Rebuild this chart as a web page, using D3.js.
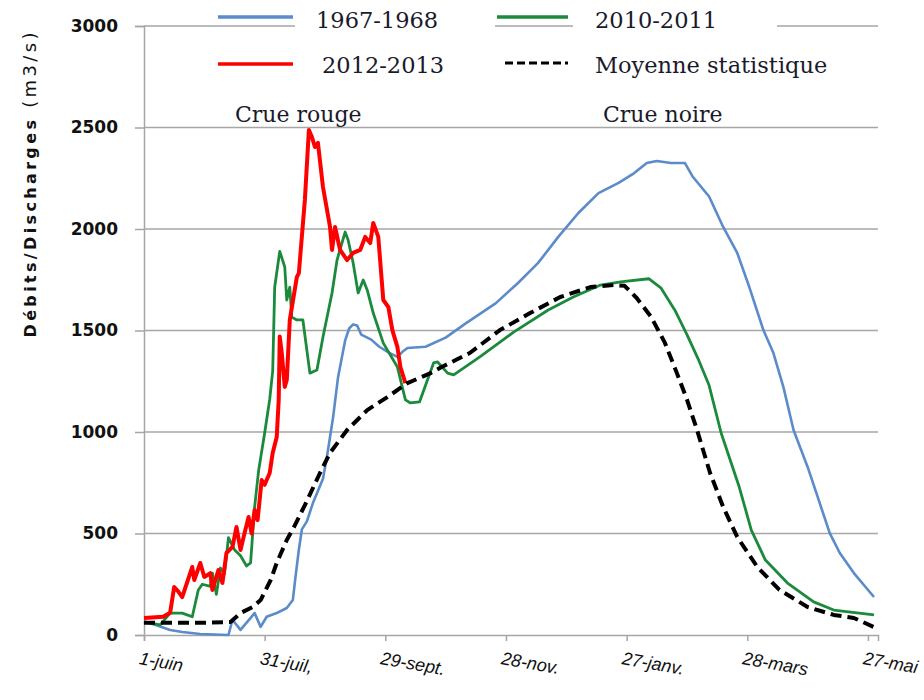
<!DOCTYPE html>
<html>
<head>
<meta charset="utf-8">
<script src="https://cdn.jsdelivr.net/npm/d3@7"></script>
<style>
  body { margin: 0; background: #fff; }
  svg { display: block; }
</style>
</head>
<body>
<svg id="chart" width="924" height="700"></svg>
<script>
// days counted from 1 June
let xTickDays = [0, 60, 120, 180, 240, 300, 360];
let xTickLabels = ["1-juin", "31-juil,", "29-sept.", "28-nov.", "27-janv.", "28-mars", "27-mai"];
let yTicks = [0, 500, 1000, 1500, 2000, 2500, 3000];

let days6768 = [0, 5.5, 13, 19, 28, 42, 44, 48, 55, 58, 61, 66, 71, 74, 75.5, 77, 78.5, 81, 84, 89, 91, 94, 96.5, 100, 102, 104, 106, 108, 113, 117, 122, 126, 128.5, 131, 140, 150, 160, 175, 186, 196, 206, 216, 226, 236, 243, 250, 255, 262, 269, 273, 281, 288, 295, 301, 308, 313, 318, 323, 330, 335, 341, 346, 353, 363];
let q6768 = [65, 50, 25, 15, 5, 0, 75, 25, 108, 40, 90, 108, 133, 172, 300, 420, 520, 560, 650, 770, 880, 1070, 1270, 1450, 1510, 1530, 1525, 1480, 1455, 1420, 1390, 1370, 1395, 1414, 1420, 1465, 1535, 1635, 1734, 1833, 1961, 2079, 2177, 2227, 2270, 2325, 2335, 2325, 2325, 2256, 2160, 2010, 1882, 1714, 1502, 1389, 1220, 1010, 828, 680, 502, 404, 305, 187];

let days1011 = [0, 8, 13, 19, 24, 27, 29, 33, 34, 36, 38, 40, 42, 45, 48, 51, 53, 55, 57, 60, 62.5, 64, 65, 67.5, 70, 71, 72.5, 73.5, 76, 79, 82.5, 86, 89, 93.5, 96, 100, 101.5, 104, 106.5, 109, 111, 114, 119, 126, 130, 132.5, 137, 144, 146, 151, 154, 167, 184, 201, 213.5, 227, 237, 251, 257, 264, 270, 276, 281, 287, 296, 302, 309, 320, 333, 343, 363];
let q1011 = [65, 50, 108, 108, 90, 222, 250, 240, 305, 200, 330, 300, 480, 420, 390, 340, 355, 630, 810, 995, 1160, 1300, 1714, 1890, 1813, 1650, 1714, 1566, 1552, 1552, 1290, 1305, 1468, 1685, 1847, 1985, 1946, 1833, 1685, 1749, 1700, 1586, 1438, 1320, 1158, 1143, 1148, 1340, 1345, 1290, 1281, 1370, 1493, 1601, 1665, 1724, 1739, 1755, 1710, 1600, 1480, 1350, 1230, 995, 729, 517, 369, 256, 163, 123, 99];

let days1213 = [0, 9.5, 13, 15, 17, 19, 24, 25, 28, 30, 33, 34, 37, 39, 41, 44, 46, 48, 50, 52, 53.5, 55, 56.5, 58.5, 60, 62.5, 64, 66, 67, 67.5, 68.5, 70, 71, 72.5, 76, 77, 80, 82, 83.5, 85, 86.5, 89, 92.5, 93.5, 95, 97.5, 101, 104, 107.5, 110, 112.5, 114, 116.5, 119, 121.5, 123.5, 126, 127.5, 130];
let q1213 = [84, 90, 110, 236, 215, 187, 335, 271, 355, 286, 305, 222, 320, 256, 404, 434, 532, 419, 502, 581, 500, 616, 566, 763, 740, 798, 897, 975, 1160, 1470, 1389, 1222, 1256, 1552, 1763, 1783, 2143, 2488, 2453, 2404, 2424, 2207, 2010, 1897, 2010, 1897, 1847, 1882, 1897, 1961, 1931, 2030, 1961, 1650, 1616, 1502, 1419, 1320, 1241];

let daysMean = [0, 28, 43, 48, 54, 58, 63, 66, 71, 75, 80.5, 87.5, 92.5, 101, 111, 121, 131, 142.5, 148, 162, 177, 192, 207, 222, 234, 239, 245, 252, 259, 265, 270, 275, 281.5, 288, 295, 305, 316, 330, 343, 353, 363];
let qMean = [60, 60, 64, 108, 138, 172, 271, 355, 468, 540, 650, 798, 897, 1010, 1108, 1172, 1241, 1290, 1320, 1389, 1502, 1586, 1665, 1714, 1724, 1720, 1660, 1570, 1440, 1290, 1160, 1010, 798, 631, 483, 335, 222, 138, 99, 84, 39];

let seriesNames = ["1967-1968", "2010-2011", "2012-2013", "Moyenne statistique"];
let seriesColors = ["#5b8bc9", "#1b8a3c", "#ff0000", "#000000"];

const svg = d3.select("#chart");
const plotLeft = 144, plotRight = 878, plotTop = 26, plotBottom = 635;

let x = d3.scaleLinear().domain([0, 365]).range([plotLeft, plotRight]);
let y = d3.scaleLinear().domain([0, 3000]).range([plotBottom, plotTop]);

// gridlines
svg.append("g")
  .selectAll("line")
  .data(yTicks.filter(d => d > 0))
  .enter().append("line")
  .attr("x1", plotLeft).attr("x2", plotRight)
  .attr("y1", d => y(d)).attr("y2", d => y(d))
  .attr("stroke", "#a6a6a6")
  .attr("stroke-width", 1.5);

// y axis
let yAxis = svg.append("g")
  .attr("transform", "translate(" + plotLeft + ",0)")
  .call(d3.axisLeft(y).tickValues(yTicks).tickSize(9).tickPadding(17).tickFormat(d3.format("d")));
yAxis.select(".domain").attr("stroke", "#a6a6a6").attr("stroke-width", 1.5);
yAxis.selectAll(".tick line").attr("stroke", "#a6a6a6").attr("stroke-width", 1.5);
yAxis.selectAll(".tick text")
  .style("font-family", "DejaVu Sans")
  .style("font-weight", "bold")
  .style("font-size", "17px")
  .attr("fill", "#111");

// x axis
let xAxis = svg.append("g")
  .attr("transform", "translate(0," + plotBottom + ")")
  .call(d3.axisBottom(x).tickValues(xTickDays).tickSize(6)
    .tickFormat((d, i) => xTickLabels[i]));
xAxis.select(".domain").attr("stroke", "#a6a6a6").attr("stroke-width", 1.5);
xAxis.selectAll(".tick line").attr("stroke", "#a6a6a6").attr("stroke-width", 1.5);
xAxis.selectAll(".tick text")
  .attr("y", 0).attr("dy", 0)
  .attr("transform", "translate(-6,29) rotate(10)")
  .style("text-anchor", "start")
  .style("font-family", "Liberation Sans")
  .style("font-style", "italic")
  .style("font-size", "18px")
  .attr("fill", "#111");

// lines
let line = d3.line()
  .x(d => x(d[0]))
  .y(d => y(d[1]));

function pairs(days, vals) {
  return days.map((d, i) => [d, vals[i]]);
}

let seriesData = [
  pairs(days6768, q6768),
  pairs(days1011, q1011),
  pairs(days1213, q1213),
  pairs(daysMean, qMean)
];
let widths = [2.6, 2.8, 4, 4];

svg.append("g")
  .selectAll("path")
  .data(seriesData)
  .enter().append("path")
  .attr("d", line)
  .attr("fill", "none")
  .attr("stroke", (d, i) => seriesColors[i])
  .attr("stroke-width", (d, i) => widths[i])
  .attr("stroke-linejoin", "round")
  .attr("stroke-dasharray", (d, i) => i == 3 ? "11,6" : null);

// legend (text boxes hide the top gridline)
svg.append("rect").attr("x", 295).attr("y", 0).attr("width", 200).attr("height", 42).attr("fill", "#fff");
svg.append("rect").attr("x", 573).attr("y", 0).attr("width", 204).attr("height", 42).attr("fill", "#fff");

let legendPos = [
  {x1: 218, x2: 293, ly: 17, tx: 316, ty: 28},
  {x1: 497, x2: 568, ly: 17, tx: 595, ty: 28},
  {x1: 218, x2: 293, ly: 64, tx: 322, ty: 73},
  {x1: 505, x2: 568, ly: 63, tx: 595, ty: 73}
];

let legend = svg.append("g")
  .selectAll("g")
  .data(seriesNames)
  .enter().append("g");

legend.append("line")
  .attr("x1", (d, i) => legendPos[i].x1)
  .attr("x2", (d, i) => legendPos[i].x2)
  .attr("y1", (d, i) => legendPos[i].ly)
  .attr("y2", (d, i) => legendPos[i].ly)
  .attr("stroke", (d, i) => seriesColors[i])
  .attr("stroke-width", (d, i) => i == 3 ? 3 : 3.5)
  .attr("stroke-dasharray", (d, i) => i == 3 ? "8,4" : null);

legend.append("text")
  .attr("x", (d, i) => legendPos[i].tx)
  .attr("y", (d, i) => legendPos[i].ty)
  .style("font-family", "DejaVu Serif")
  .style("font-size", "22.5px")
  .attr("fill", "#1a1a2a")
  .text(d => d);

// annotations
svg.append("text")
  .attr("x", 235).attr("y", 122)
  .style("font-family", "DejaVu Serif")
  .style("font-size", "22px")
  .attr("fill", "#1a1a2a")
  .text("Crue rouge");

svg.append("text")
  .attr("x", 603).attr("y", 122)
  .style("font-family", "DejaVu Serif")
  .style("font-size", "22px")
  .attr("fill", "#1a1a2a")
  .text("Crue noire");

// y-axis label
let yLabel = svg.append("text")
  .attr("transform", "translate(36,185) rotate(-90)")
  .style("text-anchor", "middle")
  .style("font-family", "DejaVu Sans")
  .style("font-size", "16px")
  .attr("fill", "#111")
  .attr("textLength", 305)
  .attr("lengthAdjust", "spacing");
yLabel.append("tspan").style("font-weight", "bold").text("Débits/Discharges ");
yLabel.append("tspan").style("font-size", "18px").text("(m3/s)");
</script>
</body>
</html>
